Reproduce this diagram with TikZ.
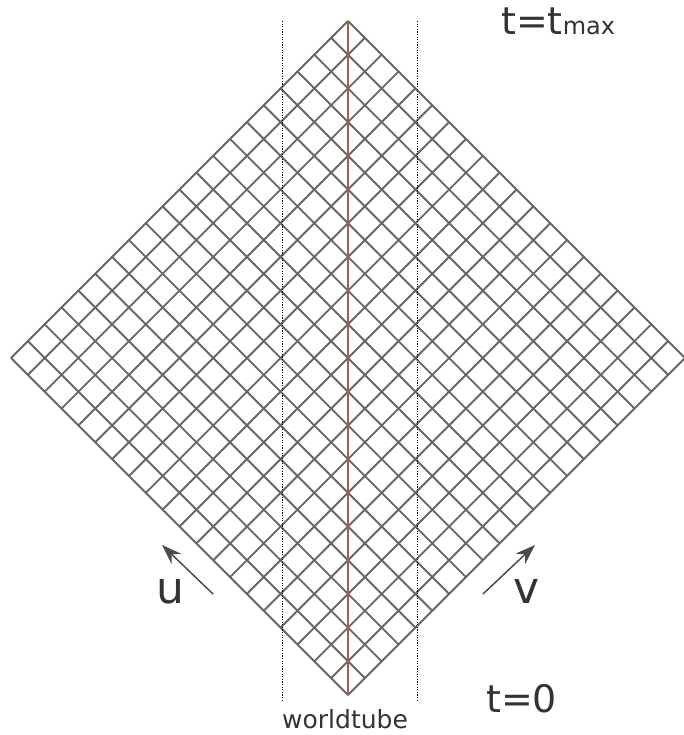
\documentclass[tikz,border=0pt]{standalone}
\usepackage{fontspec}
\setmainfont{DejaVu Sans}
\usetikzlibrary{arrows.meta}
\definecolor{tubered}{RGB}{170,90,85}
\begin{document}
\begin{tikzpicture}[x=1pt, y=-1pt,
    grid/.style={draw=black!60, line width=1.9pt},
    tube/.style={draw=black, line width=1pt, dash pattern=on 1.2pt off 1.4pt},
    axis/.style={-{Stealth[length=20pt, width=14pt]}, line width=1.5pt, draw=black!70},
    lbl/.style={anchor=base west, inner sep=0pt, text=black!80}
]
    \useasboundingbox (0,0) rectangle (684,735);

    % corners of the grid
    \coordinate (top) at (348,21);
    \coordinate (bot) at (348,695);

    % null grid, 20 x 20 cells
    \foreach \i in {0,...,20} {
        \draw[grid] ({348-16.85*\i},{695-16.85*\i}) -- ({685-16.85*\i},{358-16.85*\i});
        \draw[grid] ({348+16.85*\i},{695-16.85*\i}) -- ({11+16.85*\i},{358-16.85*\i});
    }

    % worldtube
    \coordinate (wl1) at (282,21);
    \coordinate (wl2) at (282,700);
    \coordinate (wr1) at (417,21);
    \coordinate (wr2) at (417,700);
    \draw[tube] (wl1) -- (wl2);
    \draw[tube] (wr1) -- (wr2);
    \draw[draw=tubered, line width=1.4pt] (top) -- (bot);

    % directions
    \coordinate (u0) at (213,594);
    \coordinate (u1) at (162,545);
    \coordinate (v0) at (483,594);
    \coordinate (v1) at (535,545);
    \draw[axis] (u0) -- (u1);
    \draw[axis] (v0) -- (v1);

    \node[lbl, font=\fontsize{44}{46}\selectfont] (ulabel) at (156,603) {u};
    \node[lbl, font=\fontsize{44}{46}\selectfont] (vlabel) at (513,603) {v};
    \node[lbl, font=\fontsize{38}{40}\selectfont] (tzero) at (486,712) {t=0};
    \node[lbl, font=\fontsize{38}{40}\selectfont] (tmax) at (501,35) {t=t{\fontsize{24}{26}\selectfont max}};
    \node[lbl, font=\fontsize{25}{27}\selectfont] (tube) at (282,728) {worldtube};
\end{tikzpicture}
\end{document}
